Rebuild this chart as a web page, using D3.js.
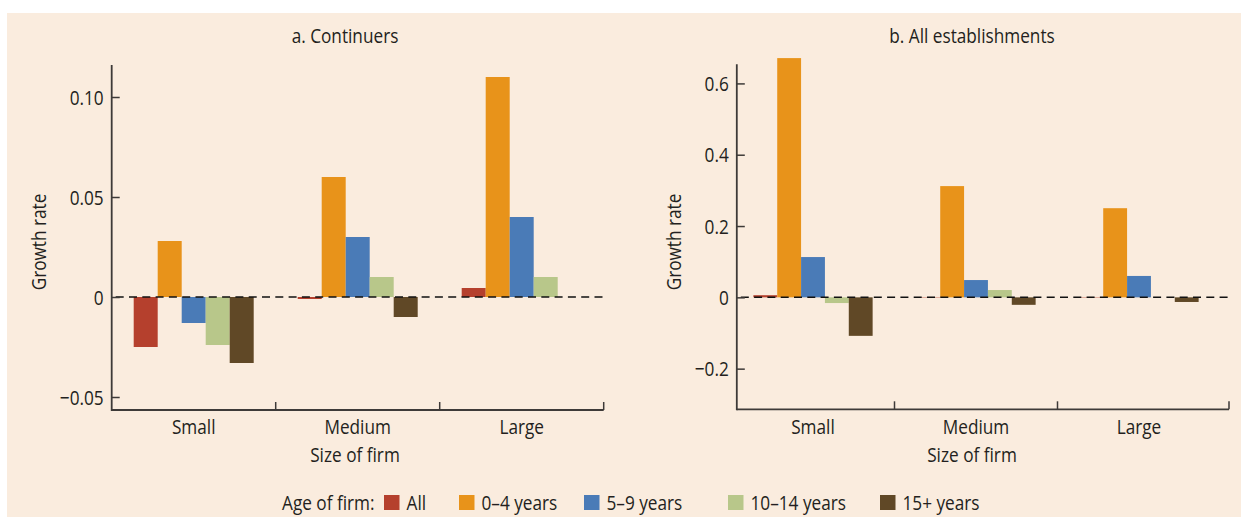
<!DOCTYPE html>
<html><head><meta charset="utf-8">
<script src="https://cdn.jsdelivr.net/npm/d3@7/dist/d3.min.js"></script>
<style>
body{margin:0;background:#fff;}
svg{display:block;}
text{font-family:'Open Sans',sans-serif;fill:#231f20;}
</style></head><body>
<svg id="c" width="1241" height="517"></svg>
<script>
const categories = ["Small", "Medium", "Large"];
const seriesNames = ["All", "0–4 years", "5–9 years", "10–14 years", "15+ years"];
const seriesColors = ["#b5402d", "#e8931a", "#4a7bb7", "#b8c78a", "#604826"];
// Panel a: Continuers (one array per firm size, values per age series)
const continuersSmall  = [-0.025, 0.028, -0.013, -0.024, -0.033];
const continuersMedium = [-0.001, 0.060,  0.030,  0.010, -0.010];
const continuersLarge  = [ 0.0045, 0.110, 0.040,  0.010,  0.000];
// Panel b: All establishments
const allSmall  = [0.006, 0.671, 0.113, -0.016, -0.108];
const allMedium = [0.001, 0.312, 0.0485, 0.0205, -0.021];
const allLarge  = [0.001, 0.250, 0.060, 0.000, -0.013];
const ticksA = [-0.05, 0, 0.05, 0.10];
const tickLabelsA = ["\u22120.05", "0", "0.05", "0.10"];
const ticksB = [-0.2, 0, 0.2, 0.4, 0.6];
const tickLabelsB = ["\u22120.2", "0", "0.2", "0.4", "0.6"];

const FS = 20;
const svg = d3.select("#c");
svg.append("rect").attr("x",7).attr("y",13).attr("width",1234).attr("height",504).attr("fill","#faecde");

function panel(o){
  const g = svg.append("g");
  const x = d3.scaleBand().domain(categories).range(o.band).paddingInner(0).paddingOuter(0);
  const xs = d3.scaleBand().domain(seriesNames).range([0, x.bandwidth()]).paddingOuter(0.9167).paddingInner(0);
  const y = d3.scaleLinear().domain(o.dom).range([o.bottom, o.top]);
  const rows = [o.vals[0], o.vals[1], o.vals[2]];
  rows.forEach((vals, ci) => {
    g.selectAll(null).data(vals).enter().append("rect")
      .attr("x", (d,i) => x(categories[ci]) + xs(seriesNames[i]))
      .attr("width", xs.bandwidth())
      .attr("y", d => y(Math.max(0,d)))
      .attr("height", d => Math.abs(y(d) - y(0)))
      .attr("fill", (d,i) => seriesColors[i]);
  });
  // zero dashed line
  g.append("line").attr("x1", o.axisX + 4).attr("x2", o.axisEnd).attr("y1", y(0)).attr("y2", y(0))
    .attr("stroke","#111").attr("stroke-width",1.5).attr("stroke-dasharray","8,5.3");
  // y axis
  const ya = d3.axisLeft(y).tickValues(o.ticks).tickFormat((d,i)=>o.labels[i]).tickSizeInner(-8).tickSizeOuter(0).tickPadding(8);
  const yg = g.append("g").attr("transform",`translate(${o.axisX},0)`).call(ya);
  yg.select(".domain").remove();
  yg.selectAll(".tick line").attr("stroke","#3d3a38").attr("stroke-width",1.5);
  yg.selectAll(".tick text").attr("font-size",FS).attr("font-family","'Open Sans',sans-serif").attr("fill","#231f20").attr("dy","0.36em");
  g.append("line").attr("x1",o.axisX).attr("x2",o.axisX).attr("y1",o.top).attr("y2",o.bottom+1)
    .attr("stroke","#3d3a38").attr("stroke-width",1.8);
  // x axis
  g.append("line").attr("x1",o.axisX).attr("x2",o.axisEnd).attr("y1",o.bottom).attr("y2",o.bottom)
    .attr("stroke","#3d3a38").attr("stroke-width",1.8);
  const bounds = categories.slice(1).map(c => x(c)).concat([o.axisEnd]);
  g.selectAll(null).data(bounds).enter().append("line")
    .attr("x1",d=>d).attr("x2",d=>d).attr("y1",o.bottom).attr("y2",o.bottom-8)
    .attr("stroke","#3d3a38").attr("stroke-width",1.5);
  g.selectAll(null).data(categories).enter().append("text")
    .attr("x", d => x(d) + x.bandwidth()/2).attr("y", 434).attr("text-anchor","middle")
    .attr("font-size",FS).text(d=>d);
  g.append("text").attr("x",o.xTitleX).attr("y",462).attr("text-anchor","middle").attr("font-size",FS).text("Size of firm");
  g.append("text").attr("transform",`translate(${o.yTitleX},242) rotate(-90)`).attr("text-anchor","middle").attr("font-size",FS).text("Growth rate");
  g.append("text").attr("x",o.titleX).attr("y",42.5).attr("text-anchor","middle").attr("font-size",FS).text(o.title);
}

panel({band:[111.7,603.7], axisX:111.7, axisEnd:603.7, top:65, bottom:410, dom:[-0.0565,0.116],
  vals:[continuersSmall, continuersMedium, continuersLarge], ticks:ticksA, labels:tickLabelsA,
  xTitleX:355, yTitleX:46, titleX:345, title:"a. Continuers"});
panel({band:[731.5,1220.5], axisX:736.8, axisEnd:1229, top:64.3, bottom:409.3, dom:[-0.314,0.6536],
  vals:[allSmall, allMedium, allLarge], ticks:ticksB, labels:tickLabelsB,
  xTitleX:972, yTitleX:681, titleX:972, title:"b. All establishments"});

// legend
const lg = svg.append("g");
lg.append("text").attr("x",282).attr("y",510).attr("font-size",FS).text("Age of firm:");
const legX = [384, 459, 584, 728, 880];
seriesNames.forEach((n,i)=>{
  lg.append("rect").attr("x",legX[i]).attr("y",495).attr("width",15.5).attr("height",15).attr("fill",seriesColors[i]);
  lg.append("text").attr("x",legX[i]+22.5).attr("y",510).attr("font-size",FS).text(n);
});

// condense all text horizontally (Myriad-like narrow face)
svg.selectAll("text").each(function(){
  const w = this.getComputedTextLength();
  d3.select(this).attr("textLength", w*0.86).attr("lengthAdjust","spacingAndGlyphs");
});
</script></body></html>
